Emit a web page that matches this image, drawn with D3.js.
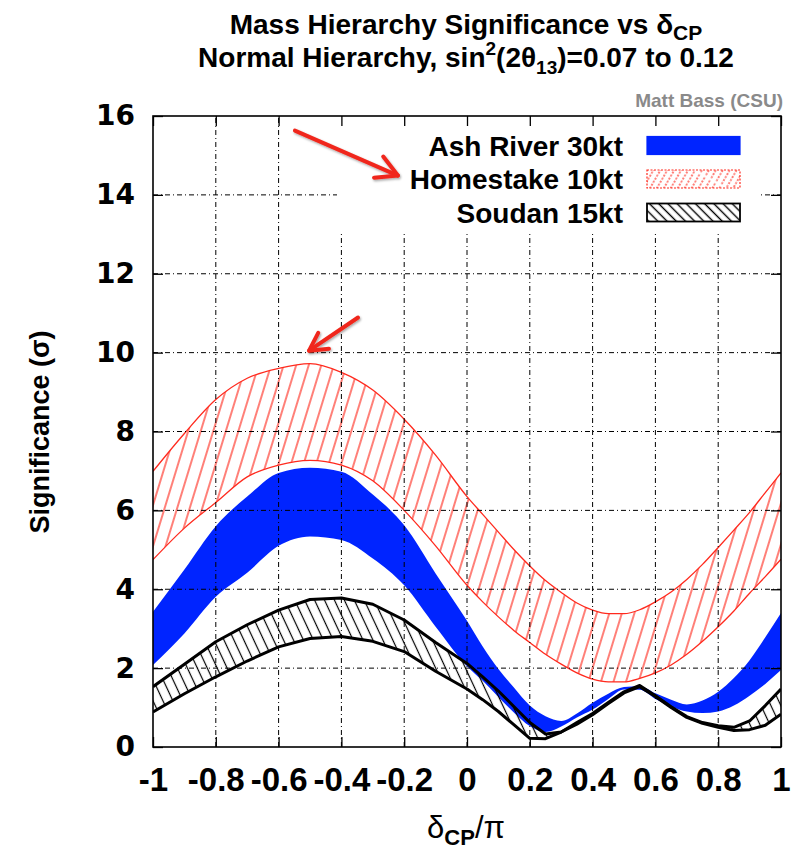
<!DOCTYPE html>
<html>
<head>
<meta charset="utf-8">
<script src="https://cdn.jsdelivr.net/npm/d3@7"></script>
<style>
  body { margin: 0; background: #fff; }
  svg { display: block; }
</style>
</head>
<body>
<svg id="chart" width="798" height="851"></svg>
<script>
// δCP/π sample points shared by all bands
const delta = [-1, -0.9, -0.8, -0.7, -0.6, -0.5, -0.4, -0.3, -0.2, -0.1,
  0, 0.05, 0.1, 0.15, 0.2, 0.25, 0.3, 0.35, 0.4, 0.45, 0.5,
  0.55, 0.6, 0.65, 0.7, 0.75, 0.8, 0.85, 0.9, 0.95, 1];

// Significance (σ) band edges, sin²(2θ13) = 0.07 (low edge) .. 0.12 (high edge)
const ashHi = [3.43, 4.5, 5.6, 6.35, 6.95, 7.08, 6.98, 6.4, 5.62, 4.4,
  3.2, 2.55, 1.98, 1.5, 1.05, 0.78, 0.66, 0.85, 1.12, 1.35, 1.52,
  1.54, 1.36, 1.2, 1.08, 1.18, 1.4, 1.75, 2.2, 2.78, 3.4];
const ashLo = [2.08, 2.88, 3.81, 4.42, 5.1, 5.34, 5.25, 4.78, 4.1, 3.05,
  2.05, 1.68, 1.27, 0.87, 0.53, 0.38, 0.52, 0.75, 0.95, 1.22, 1.46,
  1.45, 1.22, 1.03, 0.9, 0.86, 0.9, 1.05, 1.3, 1.6, 1.95];

const homestakeHi = [6.99, 7.95, 8.81, 9.35, 9.6, 9.72, 9.5, 9.05, 8.31, 7.4,
  6.35, 5.9, 5.45, 5.0, 4.59, 4.22, 3.92, 3.65, 3.47, 3.38, 3.38,
  3.48, 3.68, 3.93, 4.25, 4.63, 5.06, 5.5, 5.95, 6.45, 6.95];
const homestakeLo = [4.75, 5.55, 6.2, 6.85, 7.15, 7.27, 7.15, 6.75, 6.0, 5.1,
  4.1, 3.68, 3.3, 2.95, 2.65, 2.35, 2.1, 1.88, 1.72, 1.65, 1.65,
  1.74, 1.88, 2.08, 2.35, 2.68, 3.05, 3.45, 3.9, 4.32, 4.76];

const soudanHi = [1.53, 2.1, 2.67, 3.1, 3.47, 3.74, 3.78, 3.62, 3.22, 2.65,
  2.12, 1.78, 1.42, 1.02, 0.62, 0.33, 0.38, 0.62, 0.85, 1.13, 1.4,
  1.56, 1.3, 1.02, 0.77, 0.62, 0.54, 0.5, 0.66, 1.05, 1.47];
const soudanLo = [0.89, 1.35, 1.78, 2.18, 2.54, 2.75, 2.8, 2.68, 2.42, 1.92,
  1.47, 1.2, 0.9, 0.56, 0.22, 0.21, 0.38, 0.58, 0.82, 1.1, 1.37,
  1.53, 1.28, 1.0, 0.75, 0.6, 0.5, 0.42, 0.44, 0.55, 0.83];

const seriesNames = ["Ash River 30kt", "Homestake 10kt", "Soudan 15kt"];

const xTicks = [-1, -0.8, -0.6, -0.4, -0.2, 0, 0.2, 0.4, 0.6, 0.8, 1];
const xTickLabels = ["-1", "-0.8", "-0.6", "-0.4", "-0.2", "0", "0.2", "0.4", "0.6", "0.8", "1"];
const yTicks = [0, 2, 4, 6, 8, 10, 12, 14, 16];

// Annotation arrows in data coordinates: [tailδ, tailσ, tipδ, tipσ]
const arrows = [
  [-0.548, 15.63, -0.22, 14.49],
  [-0.347, 10.89, -0.503, 10.05]
];

const svg = d3.select("#chart");
const plot = { left: 153, right: 781, top: 116, bottom: 747 };

const x = d3.scaleLinear().domain([-1, 1]).range([plot.left, plot.right]);
const y = d3.scaleLinear().domain([0, 16]).range([plot.bottom, plot.top]);

const defs = svg.append("defs");

defs.append("clipPath").attr("id", "plotClip")
  .append("rect")
  .attr("x", plot.left).attr("y", plot.top)
  .attr("width", plot.right - plot.left).attr("height", plot.bottom - plot.top);

function hatch(id, spacing, angle, color, width, dash) {
  const p = defs.append("pattern").attr("id", id)
    .attr("patternUnits", "userSpaceOnUse")
    .attr("width", spacing).attr("height", 40)
    .attr("patternTransform", `rotate(${angle})`);
  const l = p.append("line")
    .attr("x1", spacing / 2).attr("y1", -2).attr("x2", spacing / 2).attr("y2", 42)
    .attr("stroke", color).attr("stroke-width", width);
  if (dash) l.attr("stroke-dasharray", dash);
}
hatch("hatchRed", 12, 17, "#ff2a1e", 1.2);
hatch("hatchBlack", 9, -25, "#000", 1.2);
hatch("hatchRedKey", 6, 30, "#ff2a1e", 1.2, "2,1.5");
hatch("hatchBlackKey", 6.5, -45, "#000", 1.4);

const shadow = defs.append("filter").attr("id", "arrowShadow")
  .attr("x", "-20%").attr("y", "-20%").attr("width", "140%").attr("height", "140%");
shadow.append("feDropShadow").attr("dx", 1).attr("dy", 1.5)
  .attr("stdDeviation", 1.2).attr("flood-color", "#000").attr("flood-opacity", 0.35);

// band data
function rows(hi, lo) { return delta.map((d, i) => ({ d, hi: hi[i], lo: lo[i] })); }
const ash = rows(ashHi, ashLo);
const home = rows(homestakeHi, homestakeLo);
const soudan = rows(soudanHi, soudanLo);

const smooth = d3.curveMonotoneX;
const areaGen = c => d3.area().x(r => x(r.d)).y0(r => y(r.lo)).y1(r => y(r.hi)).curve(c);
const lineGen = (key, c) => d3.line().x(r => x(r.d)).y(r => y(r[key])).curve(c);

const bands = svg.append("g").attr("clip-path", "url(#plotClip)");

// Ash River: solid blue band
bands.append("path").datum(ash)
  .attr("d", areaGen(smooth)).attr("fill", "#0024ff");

// Homestake: red hatched band with thin red edges
bands.append("path").datum(home)
  .attr("d", areaGen(smooth)).attr("fill", "url(#hatchRed)");
["hi", "lo"].forEach(k => bands.append("path").datum(home)
  .attr("d", lineGen(k, smooth)).attr("fill", "none")
  .attr("stroke", "#ff2a1e").attr("stroke-width", 1.3));

// Soudan: black hatched band with heavy edges
bands.append("path").datum(soudan)
  .attr("d", areaGen(d3.curveLinear)).attr("fill", "url(#hatchBlack)");
["hi", "lo"].forEach(k => bands.append("path").datum(soudan)
  .attr("d", lineGen(k, d3.curveLinear)).attr("fill", "none")
  .attr("stroke", "#000").attr("stroke-width", 3).attr("stroke-linejoin", "round"));

// dash-dot grid on top of the bands
const grid = svg.append("g").attr("stroke", "#000").attr("stroke-width", 1)
  .attr("stroke-dasharray", "5,3,1,3").attr("fill", "none");
xTicks.slice(1, -1).forEach(t => grid.append("line")
  .attr("x1", x(t)).attr("x2", x(t)).attr("y1", plot.bottom).attr("y2", plot.top));
yTicks.slice(1, -1).forEach(t => grid.append("line")
  .attr("x1", plot.left).attr("x2", plot.right).attr("y1", y(t)).attr("y2", y(t)));

// legend
const key = svg.append("g");
key.append("rect").attr("x", 337).attr("y", 118).attr("width", 423).attr("height", 114)
  .attr("fill", "#fff");
const keyFills = ["#0024ff", "url(#hatchRedKey)", "url(#hatchBlackKey)"];
const keyStroke = ["#0024ff", "#ff2a1e", "#000"];
const keyDash = [null, "2,1.5", null];
seriesNames.forEach((name, i) => {
  const by = 155.5 + i * 33.5;
  key.append("text").attr("x", 623).attr("y", by)
    .attr("text-anchor", "end")
    .attr("font-family", "Liberation Sans, Arial, sans-serif")
    .attr("font-weight", "bold").attr("font-size", 28)
    .attr("fill", "#000").text(name);
  key.append("rect").attr("x", 647).attr("y", by - 19).attr("width", 93).attr("height", 18)
    .attr("fill", keyFills[i]).attr("stroke", keyStroke[i])
    .attr("stroke-width", i === 2 ? 1.8 : 1.2)
    .attr("stroke-dasharray", keyDash[i]);
});

// axes with inward ticks on all four sides
const tickStyle = g => {
  g.select(".domain").remove();
  g.selectAll(".tick line").attr("stroke", "#000").attr("stroke-width", 1.3);
};
svg.append("g").attr("transform", `translate(0,${plot.bottom})`)
  .call(d3.axisBottom(x).tickValues(xTicks).tickSizeInner(-10).tickSizeOuter(0)
    .tickPadding(21).tickFormat((d, i) => xTickLabels[i]))
  .call(tickStyle)
  .call(g => g.selectAll("text").attr("font-family", "Liberation Sans, Arial, sans-serif")
    .attr("font-weight", "bold").attr("font-size", 33).attr("fill", "#000"));
svg.append("g").attr("transform", `translate(0,${plot.top})`)
  .call(d3.axisTop(x).tickValues(xTicks).tickSizeInner(-10).tickSizeOuter(0).tickFormat(""))
  .call(tickStyle);
svg.append("g").attr("transform", `translate(${plot.left},0)`)
  .call(d3.axisLeft(y).tickValues(yTicks).tickSizeInner(-10).tickSizeOuter(0).tickPadding(18))
  .call(tickStyle)
  .call(g => g.selectAll("text").attr("font-family", "DejaVu Sans, sans-serif")
    .attr("font-weight", "bold").attr("font-size", 28).attr("fill", "#000"));
svg.append("g").attr("transform", `translate(${plot.right},0)`)
  .call(d3.axisRight(y).tickValues(yTicks).tickSizeInner(-10).tickSizeOuter(0).tickFormat(""))
  .call(tickStyle);

svg.append("rect").attr("x", plot.left).attr("y", plot.top)
  .attr("width", plot.right - plot.left).attr("height", plot.bottom - plot.top)
  .attr("fill", "none").attr("stroke", "#000").attr("stroke-width", 1.6);

// annotation arrows
const arrowG = svg.append("g").attr("filter", "url(#arrowShadow)")
  .attr("stroke", "#f0281c").attr("stroke-width", 4).attr("fill", "none")
  .attr("stroke-linecap", "round").attr("stroke-linejoin", "round");
arrows.forEach(([td, ts, hd, hs], i) => {
  const x0 = x(td), y0 = y(ts), x1 = x(hd), y1 = y(hs);
  const ang = Math.atan2(y1 - y0, x1 - x0);
  const len = i === 0 ? 24 : 20, spread = 0.5;
  arrowG.append("line").attr("x1", x0).attr("y1", y0).attr("x2", x1).attr("y2", y1);
  arrowG.append("path").attr("d",
    `M${x1 - len * Math.cos(ang - spread)},${y1 - len * Math.sin(ang - spread)}` +
    `L${x1},${y1}` +
    `L${x1 - len * Math.cos(ang + spread)},${y1 - len * Math.sin(ang + spread)}`);
});

// titles
const sans = "Liberation Sans, Arial, sans-serif";
const t1 = svg.append("text").attr("x", 466).attr("y", 34).attr("text-anchor", "middle")
  .attr("font-family", sans).attr("font-weight", "bold").attr("font-size", 28).attr("fill", "#000");
t1.append("tspan").text("Mass Hierarchy Significance vs δ");
t1.append("tspan").attr("font-size", 21).attr("dy", 6).text("CP");

const t2 = svg.append("text").attr("x", 466).attr("y", 67).attr("text-anchor", "middle")
  .attr("font-family", sans).attr("font-weight", "bold").attr("font-size", 28).attr("fill", "#000");
t2.append("tspan").text("Normal Hierarchy, sin");
t2.append("tspan").attr("font-size", 19).attr("dy", -12).text("2");
t2.append("tspan").attr("dy", 12).text("(2θ");
t2.append("tspan").attr("font-size", 19).attr("dy", 7).text("13");
t2.append("tspan").attr("dy", -7).text(")=0.07 to 0.12");

svg.append("text").attr("x", 783).attr("y", 107).attr("text-anchor", "end")
  .attr("font-family", sans).attr("font-weight", "bold").attr("font-size", 19)
  .attr("fill", "#8a8a8a").text("Matt Bass (CSU)");

// axis titles
const xt = svg.append("text").attr("x", 466).attr("y", 838).attr("text-anchor", "middle")
  .attr("font-family", sans).attr("font-size", 31).attr("fill", "#000");
xt.append("tspan").text("δ");
xt.append("tspan").attr("font-size", 22).attr("font-weight", "bold").attr("dy", 7).text("CP");
xt.append("tspan").attr("dy", -7).text("/π");

svg.append("text")
  .attr("transform", `translate(49,432) rotate(-90)`)
  .attr("text-anchor", "middle")
  .attr("font-family", sans).attr("font-weight", "bold").attr("font-size", 27)
  .attr("fill", "#000").text("Significance (σ)");
</script>
</body>
</html>
